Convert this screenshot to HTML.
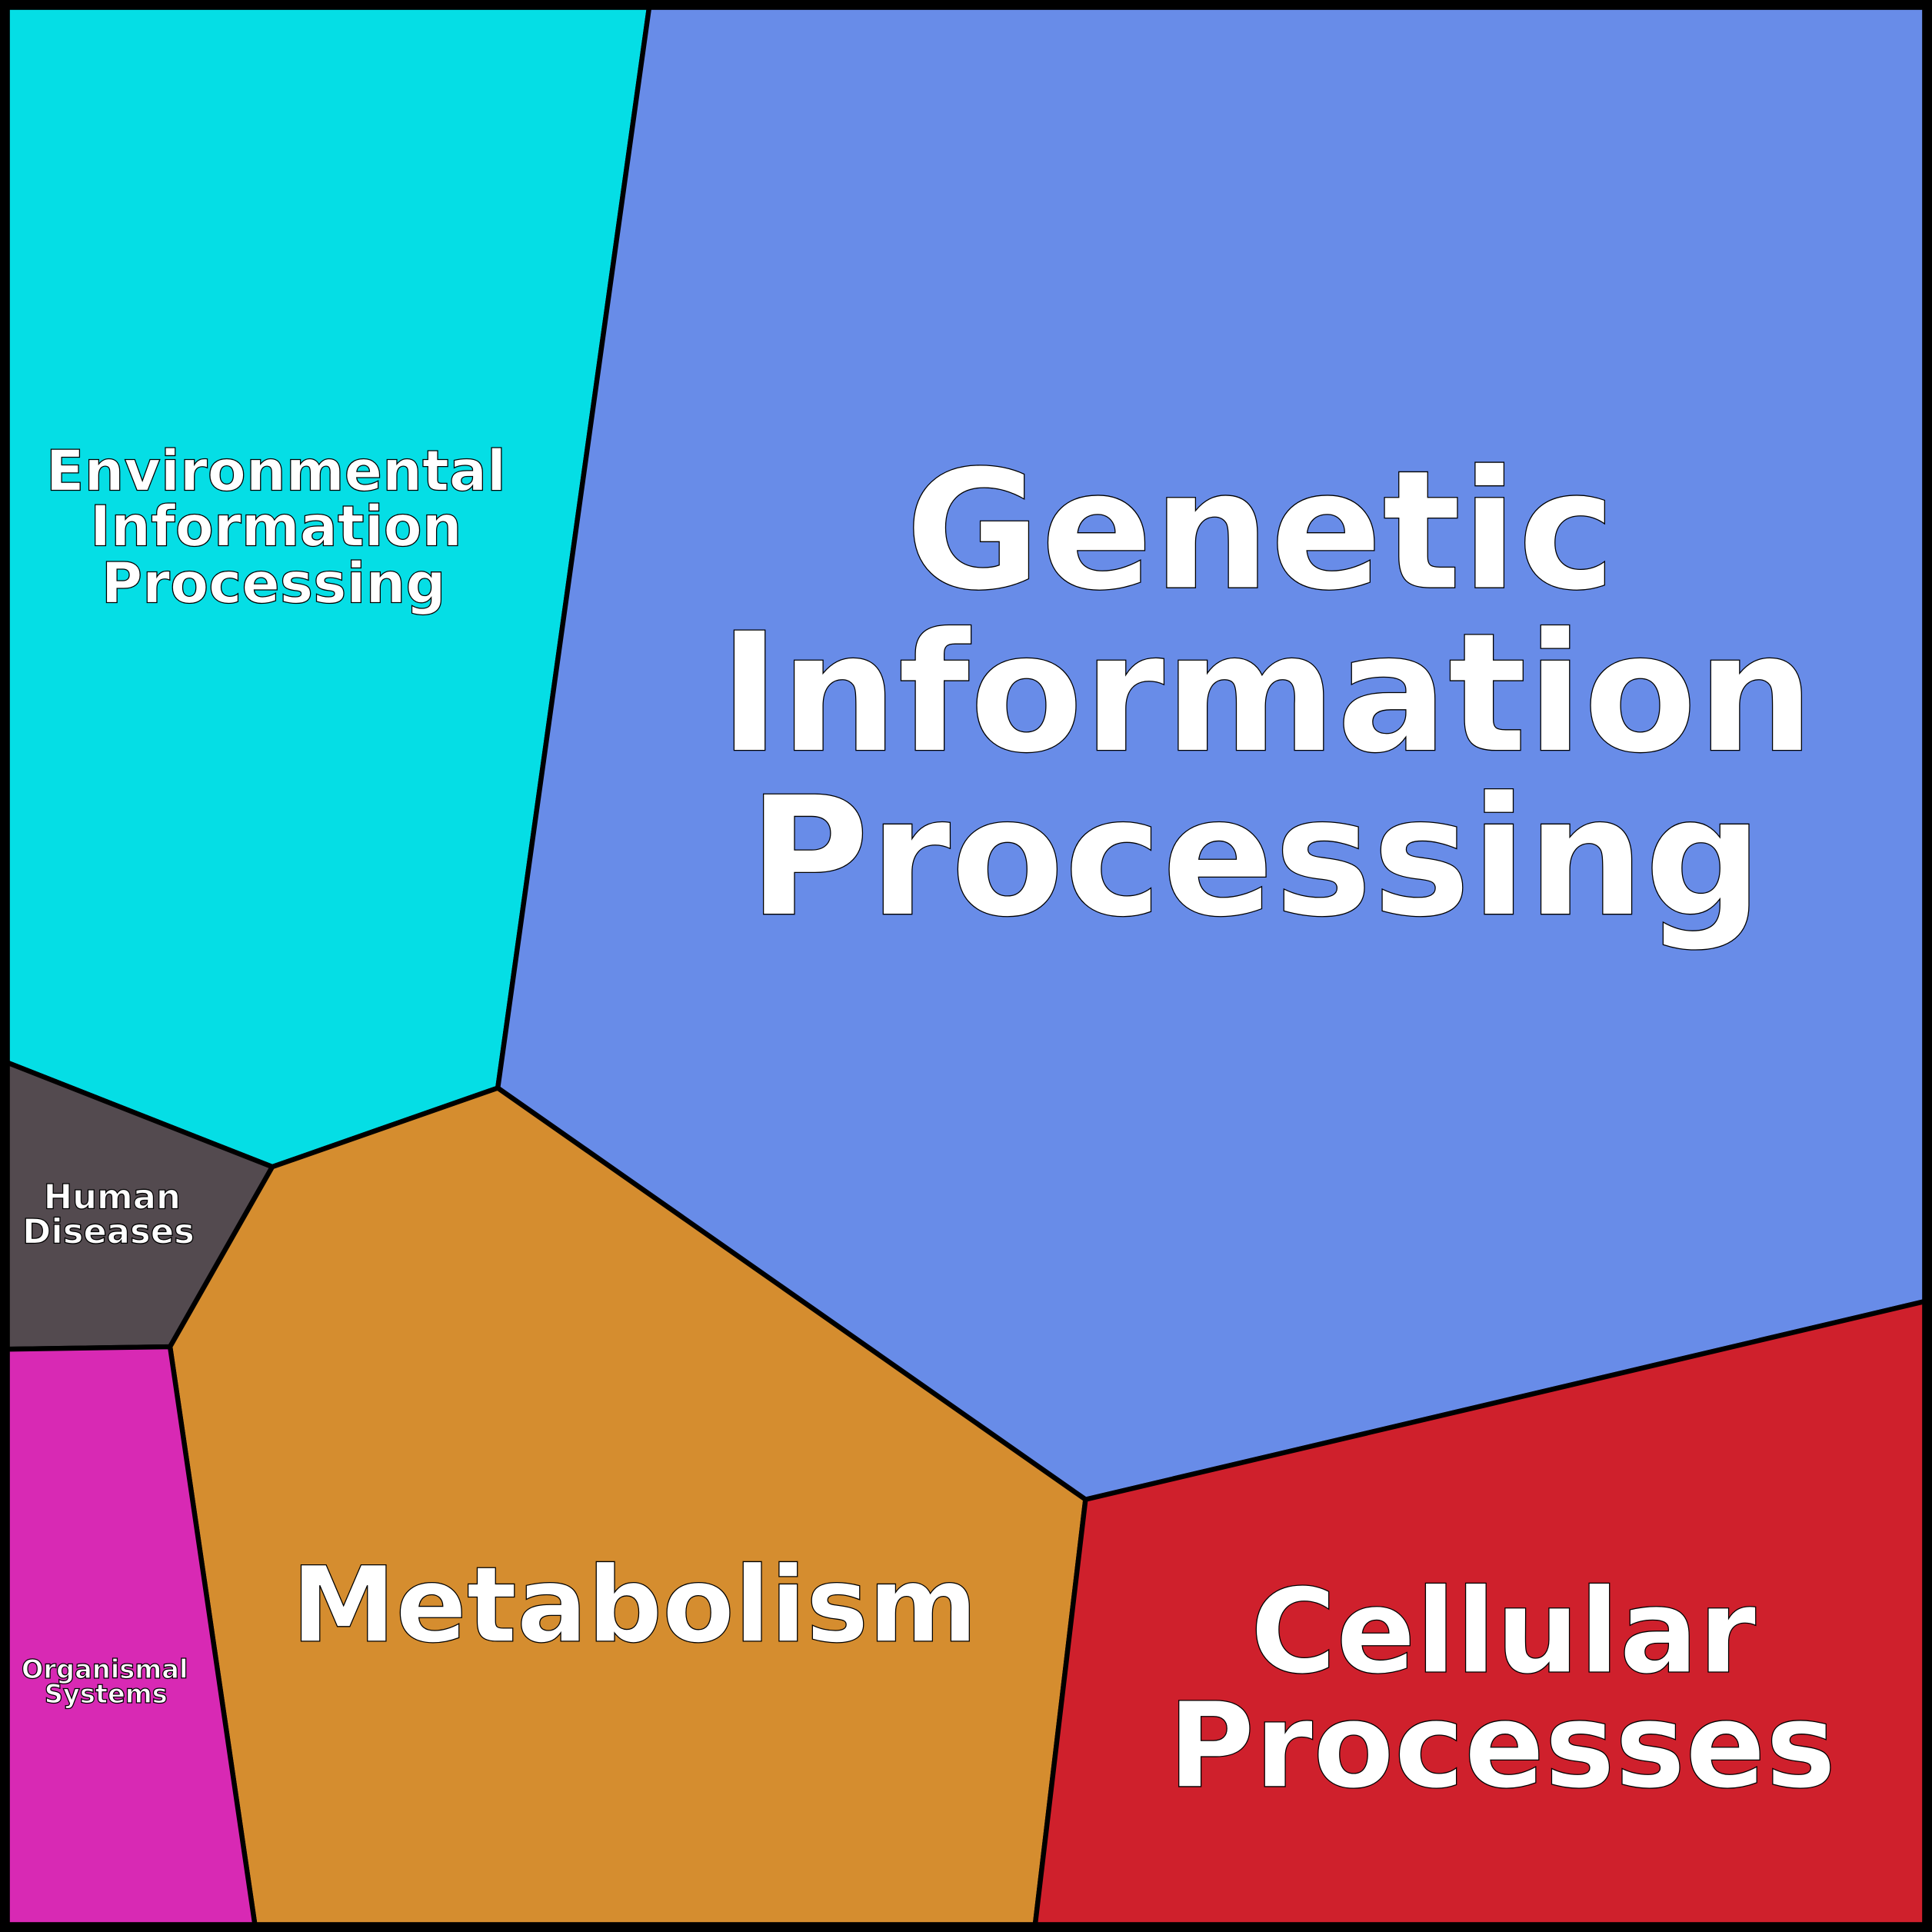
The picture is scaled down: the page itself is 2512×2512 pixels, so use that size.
<!DOCTYPE html>
<html><head><style>html,body{margin:0;padding:0;background:#000}svg{display:block}</style></head>
<body>
<svg width="2512" height="2512" viewBox="0 0 1568 1568" xmlns="http://www.w3.org/2000/svg">
<g stroke="#000" stroke-width="4" stroke-linejoin="round">
<polygon points="5,5 527,5 404,883 221,947 5,862" fill="#05dee5"/>
<polygon points="527,5 1563,5 1563,1056 881,1217 404,883" fill="#688ce8"/>
<polygon points="5,862 221,947 138,1093 5,1095" fill="#534a4f"/>
<polygon points="221,947 404,883 881,1217 840,1563 207,1563 138,1093" fill="#d58d2f"/>
<polygon points="5,1095 138,1093 207,1563 5,1563" fill="#d829b4"/>
<polygon points="881,1217 1563,1056 1563,1563 840,1563" fill="#cf202c"/>
</g>
<rect x="4" y="4" width="1560" height="1560" fill="none" stroke="#000" stroke-width="8"/>
<g font-family="'DejaVu Sans','Liberation Sans',sans-serif" font-weight="bold" fill="#fff" stroke="#000" stroke-width="0.8" text-anchor="middle">
<text x="1023" y="477" font-size="134">Genetic</text>
<text x="1028" y="609" font-size="134">Information</text>
<text x="1019" y="742" font-size="134">Processing</text>
<text x="224" y="398" font-size="45.5">Environmental</text>
<text x="224" y="443" font-size="45.5">Information</text>
<text x="222" y="489" font-size="45.5">Processing</text>
<text x="515" y="1332" font-size="85">Metabolism</text>
<text x="1220" y="1357" font-size="95">Cellular</text>
<text x="1219" y="1450" font-size="96">Processes</text>
<text x="91" y="981" font-size="28">Human</text>
<text x="88" y="1009" font-size="28">Diseases</text>
<text x="85" y="1362" font-size="21">Organismal</text>
<text x="86" y="1382" font-size="21">Systems</text>
</g>
</svg>
</body></html>
